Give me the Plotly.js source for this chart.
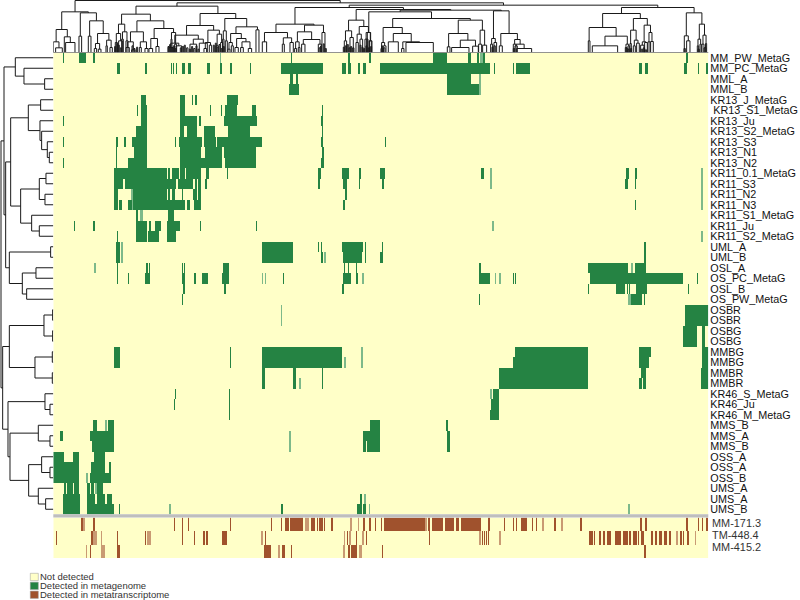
<!DOCTYPE html>
<html><head><meta charset="utf-8">
<script src="https://cdn.plot.ly/plotly-3.0.1.min.js"></script>
<style>html,body{margin:0;padding:0;background:#fff}#c{width:800px;height:600px}</style></head>
<body><div id="c"></div>
<script>
const rowLabels=["MM_PW_MetaG","MM_PC_MetaG","MML_A","MML_B","KR13_J_MetaG","\u00A0KR13_S1_MetaG","KR13_Ju","KR13_S2_MetaG","KR13_S3","KR13_N1","KR13_N2","KR11_0.1_MetaG","KR11_S3","KR11_N2","KR11_N3","KR11_S1_MetaG","KR11_Ju","KR11_S2_MetaG","UML_A","UML_B","OSL_A","OS_PC_MetaG","OSL_B","OS_PW_MetaG","OSBR","OSBR","OSBG","OSBG","MMBG","MMBG","MMBR","MMBR","KR46_S_MetaG","KR46_Ju","KR46_M_MetaG","MMS_B","MMS_A","MMS_B","OSS_A","OSS_A","OSS_B","UMS_A","UMS_A","UMS_B"];
const columnCount=1965;
// detected runs of clusters [first,last) for each sample, in dendrogram order
const rowDetected=[
[28,31,76,99,119,126,501,503,712,715,884,890,948,954,1140,1182,1244,1254,1271,1277,1280,1288,1290,1294,1897,1903],
[190,201,274,281,352,355,360,363,367,371,385,396,405,413,462,470,500,506,530,537,590,594,682,810,867,878,883,894,914,921,928,937,981,1310,1321,1325,1378,1382,1388,1429,1758,1766,1775,1783,1893,1902,1933,1937,1957,1963],
[710,720,728,735,1180,1254,1278,1284],
[708,738,1180,1278,1278,1283],
[264,278,379,395,416,420,426,430,521,554],
[251,254,264,280,379,395,470,473,503,507,516,551,597,607,806,810],
[28,31,264,280,379,430,437,443,513,610,803,808],
[248,280,379,392,400,432,453,486,523,590,805,808],
[28,31,187,194,213,218,235,280,365,369,376,445,453,488,491,625,803,810,995,998],
[187,192,243,280,380,442,455,505,513,608,807,812],
[28,31,187,190,224,280,380,505,515,607,804,812],
[183,340,343,350,355,377,381,394,398,442,457,467,520,524,793,803,867,887,918,922,981,995,1284,1292,1310,1315,1719,1726,1745,1752,1944,1948],
[183,208,214,368,374,420,424,430,435,442,455,461,795,799,870,880,918,921,987,991,1310,1315,1715,1725,1745,1749,1944,1948],
[183,195,232,238,238,340,343,350,355,365,385,389,420,430,435,442,876,880,1944,1948],
[183,194,198,207,224,235,235,240,240,395,402,410,423,442,870,875,1745,1749,1944,1948],
[248,254,260,268,345,362],
[62,66,120,124,248,281,288,292,305,322,341,380,440,443,608,611,1317,1322],
[190,193,248,281,284,316,341,368,1944,1948],
[187,200,204,208,625,718,793,797,803,806,867,930,934,938,986,989,1773,1779],
[188,200,204,208,625,718,804,810,812,817,870,926,934,938,981,988,1773,1779],
[123,127,190,193,278,284,287,291,386,390,392,396,510,527,872,876,885,888,907,911,1278,1284,1604,1725,1732,1740,1745,1778],
[190,193,224,228,274,291,386,394,423,429,446,463,507,527,625,628,634,638,689,692,870,894,907,914,927,931,1278,1311,1324,1328,1338,1342,1378,1382,1385,1389,1610,1890,1931,1934],
[390,395,513,518,867,873,1605,1608,1688,1715,1720,1724,1726,1730,1747,1780,1903,1907],
[386,389,1277,1281,1725,1732,1732,1765,1772,1775],
[682,685,1895,1965],
[682,685,1895,1965],
[1890,1930,1945,1955],
[1890,1930,1945,1955],
[183,200,530,533,625,867,924,928,1385,1604,1758,1792,1945,1965],
[183,200,530,533,625,867,872,877,924,928,1378,1604,1758,1788,1945,1965],
[625,635,718,729,807,810,1338,1604,1762,1778,1943,1965],
[625,635,718,729,738,743,807,810,1338,1604,1758,1765,1770,1778,1943,1965],
[365,369,528,530,1310,1317,1318,1338],
[362,365,528,530,1312,1338],
[528,530,1311,1338],
[120,130,156,160,164,183,951,981,1179,1183],
[21,28,110,183,708,712,928,981,1181,1190],
[116,183,708,712,928,937,941,981,1181,1190],
[0,31,59,76,122,156],
[0,76,114,156,166,173],
[0,76,98,104,110,173],
[33,38,42,58,62,76,100,110,114,122,125,130,130,150],
[29,80,100,125,130,156,162,177,920,927,933,938],
[29,80,100,183,197,201,347,353,684,689,911,927,930,937,947,951,1725,1730]
];
// paler, narrow runs: [row, first, last)
const faintDetected=[[0,501,503],[0,1280,1288],[2,1278,1284],[3,1278,1283],[11,1310,1315],[12,1310,1315],[13,232,238],[14,235,240],[15,260,268],[16,1317,1322],[18,204,208],[19,204,208],[19,812,817],[20,123,127],[20,1732,1740],[21,625,628],[21,634,638],[21,927,931],[21,1324,1328],[21,1338,1342],[23,1725,1732],[24,682,685],[25,682,685],[28,924,928],[29,872,877],[29,924,928],[31,738,743],[32,1310,1317],[35,156,160],[36,708,712],[37,708,712],[40,98,104],[41,125,130],[42,933,938],[43,347,353],[43,947,951],[43,1725,1730],[11,1944,1948],[12,1944,1948],[13,1944,1948],[14,1944,1948],[17,1944,1948]];
const genomeLabels=["MM-171.3","TM-448.4","MM-415.2"];
const genome1=[84,88,90,94,120,126,362,365,386,389,405,408,531,534,654,657,682,686,695,706,709,749,755,767,773,786,790,795,797,808,811,815,833,839,891,895,914,918,929,935,948,954,965,969,982,986,991,1114,1116,1120,1124,1131,1136,1170,1174,1201,1207,1217,1222,1283,1304,1311,1352,1355,1379,1382,1388,1392,1402,1422,1436,1440,1447,1451,1466,1473,1503,1508,1524,1528,1581,1585,1760,1766,1775,1782,1897,1904,1934,1938,1947,1950,1959,1963];
const genome2=[8,12,113,118,120,131,144,147,191,194,275,279,281,284,287,292,386,389,423,426,450,454,457,463,507,521,624,628,635,638,872,875,881,884,888,892,907,910,927,932,939,941,1126,1129,1278,1284,1286,1290,1292,1296,1298,1302,1304,1308,1337,1342,1607,1618,1622,1626,1636,1644,1650,1654,1660,1674,1685,1704,1710,1724,1726,1734,1740,1744,1746,1750,1754,1758,1763,1771,1792,1800,1804,1812,1818,1826,1832,1840,1846,1854,1868,1874,1880,1886,1890,1893,1902,1906,1924,1927];
const genome3=[98,102,109,112,144,154,190,201,633,637,638,652,674,680,686,696,712,715,870,875,885,889,892,910,918,927,985,989,1773,1777];
const faintGenome=[[0,90,94],[0,755,767],[0,891,895],[0,914,918],[0,1116,1120],[0,1466,1473],[0,1524,1528],[1,120,131],[1,144,147],[1,281,292],[1,624,628],[1,872,875],[1,888,892],[1,927,932],[1,1278,1284],[1,1337,1342],[1,1924,1927],[1,1868,1874],[2,98,102],[2,144,154],[2,674,680],[2,870,875],[2,918,927]];
const legendNames=["Not detected","Detected in metagenome","Detected in metatranscriptome"];
const cream="#FFFFC8",green="#258343",brown="#A0522D",grey="#BEBEBE",paleGreen="#7DB98A",paleBrown="#C99A73";
const legendColors=[cream,green,brown];

// sample tree: [height, child, child], a leaf is a row number
const sampleTree=[157,[148,[114,0,[88,1,[26,2,3]]],[143,[128,[75,[38,4,5],[40,6,[35,7,[18,8,[12,9,10]]]]],[98,[42,[22,11,12],[25,13,14]],[65,15,[42,16,17]]]],[132,[8,18,19],[93,[52,20,21],[80,22,23]]]]],[152,[132,[28,[2,24,25],[2,26,27]],[55,[3,28,29],[3,30,31]]],[136,[25,32,[10,33,34]],[130,[45,35,[10,36,37]],[74,[35,38,[10,39,40]],[45,41,[23,42,43]]]]]]];
// cluster tree: leaf is its order position
const treeA=[122,[69,[32,160,[14,167,187]],[47,193,[30,197,225]]],[119,[49,237,245],[95,[49,265,273],[57,[27,[12,283,290],[10,295,303]],[37,[20,318,322],[15,330,337]]]]]];
const treeB=[139,[115,[85,[57,[30,346,352],[35,356,368]],[62,[40,365,370],[35,378,384]]],[95,[62,[32,[15,378,388],[8,395,405]],[32,[15,418,424],[12,435,444]]],[72,[42,[12,447,458],[18,468,477]],[60,[40,513,516],[25,524,530]]]]],[117,[81,[52,[28,[15,505,520],[20,528,545]],[40,[25,570,590],[28,598,622]]],[67,[30,[12,612,620],[22,628,635]],[55,[20,648,655],[30,662,668]]]],[102,[65,[40,668,672],[35,676,682]],[77,[57,[30,[10,684,690],[20,694,700]],[42,[15,705,715],[32,[15,722,730],[12,745,755]]]],[68,768,777]]]]];
const treeC=[85,[60,[32,787,800],[44,[25,847,853],[30,870,880]]],[82,[62,[32,[12,884,890],[15,895,900]],[39,[25,905,915],[25,955,965]]],[60,966,975]]];
const treeD=[97,[65,[35,1033,1040],[45,1050,1060]],[78,[55,[30,1068,1075],[40,1080,1088]],[60,[40,1095,1102],[35,1108,1116]]]];
const treeE=[122,[60,[40,1100,1104],[35,1108,1114]],[102,[75,[30,[12,1143,1147],[20,1150,1158]],[57,[32,1165,1195],[32,[12,1205,1212],[30,1218,1300]]]],[97,[57,[17,1342,1350],[37,[15,1355,1407],[19,1418,1435]]],[67,[25,1436,1445],[22,1448,1460]]]]];
const treeF=[125,[42,[25,1472,1478],[30,1482,1490]],[57,[20,1498,1507],[39,[25,1540,1548],[25,[12,1550,1595],[20,1545,1552]]]]];
const treeG=[135,[117,[75,[35,1765,1770],[49,[20,1777,1853],[25,[15,1876,1880],[20,1884,1888]]]],[102,[67,[27,1890,1894],[37,[20,1900,1906],[28,1910,1918]]],[82,[32,[22,1922,1932],[30,1934,1942]],[60,[32,1944,1950],[33,1952,1960]]]]],[119,[50,2053,[35,2060,2070]],[85,[40,[20,2092,2096],[25,2100,2104]],[52,[25,2106,2112],[27,[15,2115,2118],2120]]]]];
const clusterTree=[156,treeA,[149,treeB,[142,[135,treeC,[129,treeD,[127,treeE,treeF]]],treeG]]];
const leafOffset=160;
// fine low merges at the tips of the cluster tree [height, from, to]
const fineMerges=[[18,344,347],[28,350,353],[22,354,358],[14,361,364],[20,396,399],[12,402,405],[16,410,413],[18,504,507],[24,509,512],[14,514,518],[20,520,523],[12,526,529],[14,541,544],[18,547,551],[22,553,556],[14,560,564],[10,568,572],[18,575,578],[12,581,585],[20,588,591],[10,594,597],[22,640,643],[28,646,649],[16,651,654],[24,657,660],[12,664,667],[18,670,673],[14,957,960],[20,962,964],[26,970,973],[12,976,979],[16,1030,1033],[20,1036,1039],[24,1042,1045],[14,1047,1050],[18,1052,1055],[14,1058,1062],[22,1080,1083],[16,1086,1089],[12,1091,1094],[20,1098,1101],[14,1105,1108],[18,1112,1115],[20,1145,1148],[14,1151,1155],[16,1476,1479],[20,1482,1486],[12,1540,1544],[14,1878,1882],[10,1884,1887],[12,1892,1895],[10,1924,1928],[14,1930,1934],[8,1936,1940],[12,2052,2056],[10,2094,2098],[14,2112,2116]];

function fill(runs,n,val){const a=new Array(n).fill(0);for(let i=0;i<runs.length;i+=2){for(let j=runs[i];j<runs[i+1];j++)a[j]=val;}return a;}
const z=rowDetected.map(r=>fill(r,columnCount,1));
faintDetected.forEach(f=>{for(let j=f[1];j<f[2];j++)z[f[0]][j]=0.5;});
const zG=[genome1,genome2,genome3].map(r=>fill(r,columnCount,2));
faintGenome.forEach(f=>{for(let j=f[1];j<f[2];j++)zG[f[0]][j]=1.5;});
const cs=[[0,cream],[0.15,cream],[0.15,paleGreen],[0.35,paleGreen],[0.35,green],[0.6,green],[0.6,paleBrown],[0.85,paleBrown],[0.85,brown],[1,brown]];

function walk(node,xs,ys){ // returns [pos,height]
  if(typeof node==="number")return [node,0];
  const a=walk(node[1],xs,ys),b=walk(node[2],xs,ys),h=node[0];
  xs.push(a[0],a[0],b[0],b[0],null);ys.push(a[1],h,h,b[1],null);
  return [(a[0]+b[0])/2,h];
}
const tx=[],ty=[];walk(clusterTree,tx,ty);
fineMerges.forEach(m=>{tx.push(m[1],m[1],m[2],m[2],null);ty.push(0,m[0],m[0],0,null);});
const sx=[],sy=[];walk(sampleTree,sy,sx);

const W=800,H=600,L=53.3,R=708.3,T0=52.5,T1=514.5,A0=517.5,A1=558;
const fx=p=>p/W,fy=p=>1-p/H;
const font="Liberation Sans, Arial, sans-serif";
const traces=[
 {type:"heatmap",z:z,colorscale:cs,zmin:0,zmax:2,showscale:false,xaxis:"x",yaxis:"y",hoverinfo:"skip"},
 {type:"heatmap",z:zG,colorscale:cs,zmin:0,zmax:2,showscale:false,xaxis:"x",yaxis:"y4",hoverinfo:"skip"},
 {type:"scatter",mode:"lines",x:tx,y:ty,xaxis:"x2",yaxis:"y2",line:{color:"#1a1a1a",width:1},hoverinfo:"skip",connectgaps:false},
 {type:"scatter",mode:"lines",x:sx,y:sy,xaxis:"x3",yaxis:"y",line:{color:"#1a1a1a",width:1},hoverinfo:"skip",connectgaps:false}
];
const hide={visible:false,fixedrange:true};
const shapes=[
 {type:"rect",xref:"paper",yref:"paper",x0:fx(L),x1:fx(R),y0:fy(T1-0.3),y1:fy(A0),fillcolor:grey,line:{width:0},layer:"above"},
 {type:"line",xref:"paper",yref:"paper",x0:fx(L),x1:fx(R),y0:fy(T0),y1:fy(T0),line:{color:"#777",width:0.8},layer:"above"}
];
const annotations=[];
legendNames.forEach((n,i)=>{
 const top=573.3+8.9*i;
 shapes.push({type:"rect",xref:"paper",yref:"paper",x0:fx(30.3),x1:fx(38.3),y0:fy(top),y1:fy(top+7.3),fillcolor:legendColors[i],line:{color:"#999",width:0.5}});
 annotations.push({xref:"paper",yref:"paper",x:fx(39),y:fy(top+3.6),xanchor:"left",yanchor:"middle",showarrow:false,text:n,font:{family:font,size:9.5,color:"#333"},borderpad:0});
});
genomeLabels.forEach((n,i)=>{
 annotations.push({xref:"paper",yref:"paper",x:fx(711),y:fy(523.3+12*i),xanchor:"left",yanchor:"middle",showarrow:false,text:n,font:{family:font,size:10.9,color:"#333"},borderpad:0});
});
const layout={width:W,height:H,margin:{l:0,r:0,t:0,b:0},paper_bgcolor:"#fff",plot_bgcolor:"rgba(0,0,0,0)",showlegend:false,
 xaxis:{...hide,domain:[fx(L),fx(R)],range:[-0.5,columnCount-0.5],anchor:"y"},
 yaxis:{domain:[fy(T1),fy(T0)],range:[43.5,-0.5],side:"right",anchor:"x",tickmode:"array",tickvals:rowLabels.map((_,i)=>i),ticktext:rowLabels,ticks:"",showgrid:false,zeroline:false,showline:false,fixedrange:true,ticklabelstandoff:1,tickfont:{family:font,size:10.8,color:"#111"},automargin:false},
 yaxis4:{...hide,domain:[fy(A1),fy(A0)],range:[2.5,-0.5],anchor:"x"},
 xaxis2:{...hide,domain:[fx(L),fx(R)],range:[leafOffset,leafOffset+columnCount],anchor:"y2"},
 yaxis2:{...hide,domain:[fy(T0),1],range:[0,157.5],anchor:"x2"},
 xaxis3:{...hide,domain:[0,fx(L)],range:[160,0],anchor:"y"},
 shapes:shapes,annotations:annotations};
Plotly.newPlot("c",traces,layout,{staticPlot:true,displayModeBar:false});
</script></body></html>
